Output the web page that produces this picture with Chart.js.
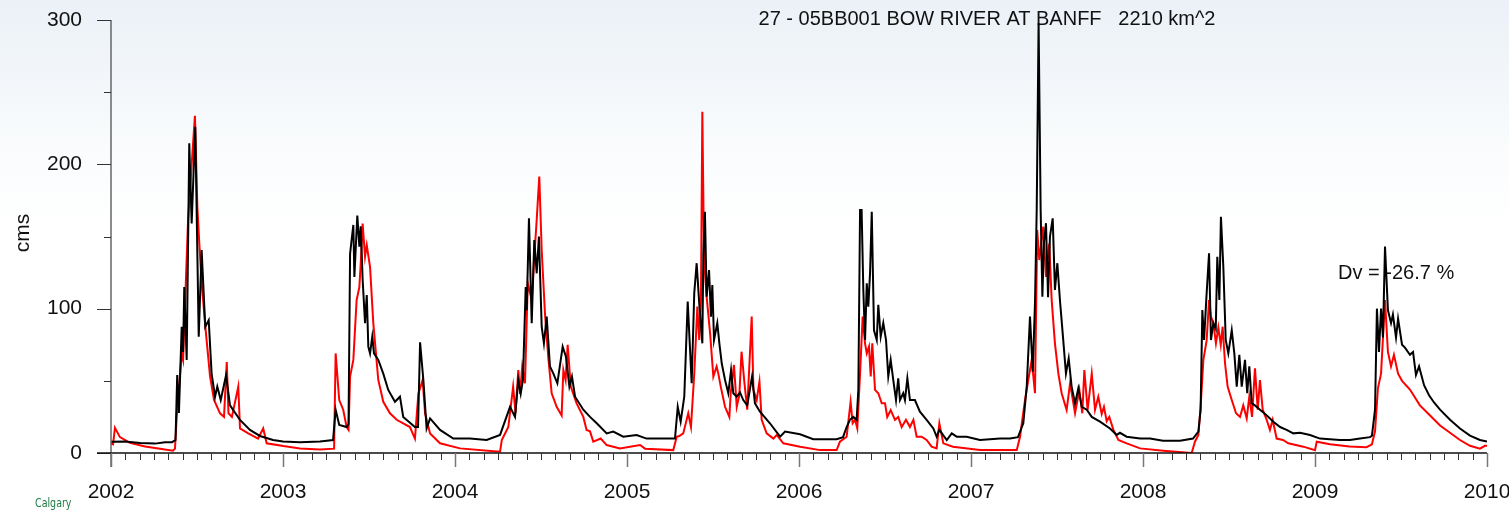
<!DOCTYPE html>
<html>
<head>
<meta charset="utf-8">
<script src="https://cdn.jsdelivr.net/npm/chart.js@4.4.1/dist/chart.umd.min.js"></script>
<style>
  html, body { margin: 0; padding: 0; background: #fff; }
  canvas { display: block; }
</style>
</head>
<body>
<canvas id="hydro" width="1509" height="512"></canvas>
<script>
// observed flow (black), decimal year / cms
const obsDate = [
  2002.000, 2002.081, 2002.169, 2002.256, 2002.314, 2002.355, 2002.375, 2002.385, 2002.395, 2002.411, 2002.419, 2002.426, 2002.440, 2002.455, 2002.469, 2002.490, 2002.510, 2002.527, 2002.548, 2002.568, 2002.585, 2002.605, 2002.618, 2002.638, 2002.669, 2002.692, 2002.750, 2002.808, 2002.866, 2002.942,
  2003.000, 2003.099, 2003.215, 2003.291, 2003.306, 2003.327, 2003.370, 2003.381, 2003.390, 2003.399, 2003.409, 2003.415, 2003.432, 2003.444, 2003.452, 2003.463, 2003.477, 2003.487, 2003.496, 2003.506, 2003.519, 2003.529, 2003.554, 2003.583, 2003.612, 2003.651, 2003.680, 2003.699, 2003.767, 2003.785, 2003.797, 2003.816, 2003.835, 2003.855, 2003.913, 2003.990,
  2004.087, 2004.184, 2004.262, 2004.320, 2004.349, 2004.368, 2004.382, 2004.395, 2004.411, 2004.417, 2004.430, 2004.446, 2004.461, 2004.475, 2004.488, 2004.504, 2004.517, 2004.533, 2004.552, 2004.572, 2004.595, 2004.626, 2004.645, 2004.665, 2004.680, 2004.698, 2004.746, 2004.785, 2004.824, 2004.882, 2004.920, 2004.978,
  2005.056, 2005.114, 2005.269, 2005.279, 2005.295, 2005.312, 2005.333, 2005.353, 2005.376, 2005.391, 2005.405, 2005.420, 2005.438, 2005.444, 2005.453, 2005.463, 2005.477, 2005.488, 2005.496, 2005.506, 2005.525, 2005.537, 2005.551, 2005.570, 2005.589, 2005.605, 2005.618, 2005.638, 2005.657, 2005.676, 2005.699, 2005.727, 2005.744, 2005.773, 2005.831, 2005.890, 2005.919,
  2006.006, 2006.083, 2006.219, 2006.256, 2006.277, 2006.296, 2006.316, 2006.335, 2006.345, 2006.355, 2006.364, 2006.374, 2006.384, 2006.394, 2006.403, 2006.413, 2006.423, 2006.436, 2006.452, 2006.461, 2006.475, 2006.490, 2006.506, 2006.519, 2006.533, 2006.548, 2006.564, 2006.577, 2006.587, 2006.606, 2006.616, 2006.630, 2006.645, 2006.674, 2006.703, 2006.742, 2006.781, 2006.800, 2006.816, 2006.859, 2006.888, 2006.917, 2006.975,
  2007.052, 2007.169, 2007.227, 2007.273, 2007.304, 2007.324, 2007.343, 2007.359, 2007.372, 2007.382, 2007.393, 2007.405, 2007.415, 2007.424, 2007.436, 2007.448, 2007.459, 2007.475, 2007.488, 2007.502, 2007.517, 2007.533, 2007.552, 2007.568, 2007.585, 2007.605, 2007.624, 2007.644, 2007.673, 2007.702, 2007.750, 2007.808, 2007.847, 2007.866, 2007.905, 2007.983,
  2008.041, 2008.116, 2008.215, 2008.291, 2008.322, 2008.335, 2008.345, 2008.355, 2008.370, 2008.384, 2008.395, 2008.409, 2008.423, 2008.432, 2008.444, 2008.453, 2008.467, 2008.481, 2008.496, 2008.516, 2008.531, 2008.545, 2008.560, 2008.574, 2008.593, 2008.606, 2008.618, 2008.632, 2008.651, 2008.680, 2008.700, 2008.729, 2008.758, 2008.797, 2008.835, 2008.874, 2008.913, 2008.971,
  2009.029, 2009.087, 2009.145, 2009.203, 2009.262, 2009.320, 2009.331, 2009.349, 2009.360, 2009.372, 2009.384, 2009.395, 2009.407, 2009.424, 2009.442, 2009.453, 2009.471, 2009.483, 2009.506, 2009.523, 2009.552, 2009.570, 2009.587, 2009.605, 2009.634, 2009.663, 2009.692, 2009.727, 2009.785, 2009.843, 2009.901, 2009.959, 2010.000
];
const obsFlow = [
  7.8, 8, 7, 6.5, 7.5, 7.5, 9, 54, 27.7, 87.5, 70, 115, 64.5, 214.6, 159, 226, 80.6, 140.7, 87.5, 92, 55, 39, 46, 36.7, 54, 33, 22.9, 16, 11.8, 9,
  8, 7.5, 8, 9, 30, 19.4, 18, 20, 138, 147.6, 158, 122, 164.5, 143, 157, 120, 90, 109.5, 73.7, 69, 80.6, 69, 64.5, 55, 43.7, 35.5, 39, 25, 18, 18, 76.7, 50.6, 17, 24, 16, 10,
  10, 9, 12.5, 32, 25, 50.6, 41, 50.6, 115, 99, 162.6, 90, 147.6, 124.5, 150, 87.5, 76, 94.5, 60, 55, 48.3, 73.7, 66.7, 46, 53, 39, 30, 25, 20.6, 13.6, 14.8, 11.3,
  12.5, 10, 10, 10, 32, 21.7, 39, 104.9, 48.3, 110.7, 131.5, 103.7, 76, 138.4, 167.2, 108.3, 126.8, 94.5, 116.4, 78.3, 90, 76, 62, 50.6, 41.4, 57.5, 41.4, 39, 42, 36.7, 33, 53, 34.4, 28.6, 20.6, 11.3, 14.8,
  13, 9.5, 9.5, 11, 18, 23, 25, 23, 43.7, 168.4, 168.4, 113, 78.3, 117.6, 101.4, 124.5, 167.2, 85, 78.3, 102.6, 80.6, 90, 78.3, 53, 64.5, 50.6, 36.7, 51.8, 36.7, 41.4, 36.7, 51.8, 36.7, 36.7, 28.6, 23, 17, 11.3, 16, 9, 13.6, 11.3, 11.3,
  9, 10, 10, 11, 20.6, 46, 94.5, 56.3, 103.7, 168.4, 297.8, 168, 108.3, 145.3, 159.2, 108, 150, 162.6, 113, 131.5, 106, 83, 55, 65.6, 46, 34.4, 44.8, 32, 30, 25, 21.7, 17, 12.5, 14, 11.3, 10,
  10, 8.5, 8.5, 10, 14.8, 30, 99, 78.3, 110.7, 138.4, 78.3, 90, 86, 136, 106, 163.7, 129, 78.3, 69, 85, 69, 46, 68, 46, 64.5, 41.4, 60, 34.4, 33, 30, 28, 25, 21.7, 18, 16, 13.6, 14, 12.5,
  10, 9.5, 9, 9, 10, 11, 12, 30, 100, 70, 100, 80, 143, 99, 90, 96, 80, 93, 75, 73, 68, 70, 54, 60, 47, 40, 35, 30, 23, 17, 12, 9, 8
];

// simulated flow (red)
const simDate = [
  2002.000, 2002.012, 2002.023, 2002.052, 2002.110, 2002.198, 2002.285, 2002.360, 2002.372, 2002.382, 2002.392, 2002.411, 2002.419, 2002.448, 2002.469, 2002.488, 2002.502, 2002.513, 2002.527, 2002.552, 2002.576, 2002.599, 2002.634, 2002.657, 2002.673, 2002.683, 2002.703, 2002.740, 2002.750, 2002.798, 2002.855, 2002.885, 2002.905,
  2003.002, 2003.099, 2003.215, 2003.297, 2003.306, 2003.327, 2003.350, 2003.370, 2003.381, 2003.390, 2003.409, 2003.428, 2003.444, 2003.453, 2003.463, 2003.477, 2003.487, 2003.506, 2003.525, 2003.554, 2003.583, 2003.622, 2003.661, 2003.699, 2003.738, 2003.767, 2003.787, 2003.812, 2003.826, 2003.855, 2003.913,
  2004.029, 2004.242, 2004.262, 2004.272, 2004.310, 2004.338, 2004.352, 2004.368, 2004.378, 2004.391, 2004.407, 2004.423, 2004.446, 2004.461, 2004.475, 2004.490, 2004.504, 2004.523, 2004.542, 2004.562, 2004.591, 2004.620, 2004.630, 2004.643, 2004.655, 2004.673, 2004.707, 2004.746, 2004.765, 2004.785, 2004.804, 2004.847, 2004.882, 2004.959,
  2005.076, 2005.105, 2005.269, 2005.289, 2005.304, 2005.327, 2005.356, 2005.372, 2005.391, 2005.409, 2005.420, 2005.430, 2005.438, 2005.448, 2005.463, 2005.483, 2005.502, 2005.521, 2005.531, 2005.545, 2005.570, 2005.595, 2005.603, 2005.622, 2005.638, 2005.653, 2005.666, 2005.682, 2005.699, 2005.725, 2005.735, 2005.754, 2005.770, 2005.783, 2005.812, 2005.851, 2005.870, 2005.909,
  2006.006, 2006.122, 2006.219, 2006.238, 2006.277, 2006.300, 2006.312, 2006.326, 2006.339, 2006.355, 2006.370, 2006.384, 2006.394, 2006.407, 2006.417, 2006.426, 2006.442, 2006.461, 2006.481, 2006.500, 2006.513, 2006.533, 2006.558, 2006.577, 2006.597, 2006.622, 2006.645, 2006.665, 2006.684, 2006.713, 2006.742, 2006.771, 2006.800, 2006.816, 2006.839, 2006.895,
  2007.052, 2007.149, 2007.266, 2007.285, 2007.314, 2007.333, 2007.353, 2007.372, 2007.385, 2007.397, 2007.420, 2007.436, 2007.455, 2007.469, 2007.488, 2007.508, 2007.527, 2007.556, 2007.576, 2007.605, 2007.630, 2007.647, 2007.659, 2007.678, 2007.702, 2007.721, 2007.740, 2007.760, 2007.773, 2007.789, 2007.804, 2007.828, 2007.857, 2007.905, 2007.983,
  2008.118, 2008.283, 2008.302, 2008.322, 2008.335, 2008.351, 2008.370, 2008.384, 2008.395, 2008.409, 2008.424, 2008.438, 2008.452, 2008.463, 2008.477, 2008.492, 2008.516, 2008.541, 2008.564, 2008.583, 2008.603, 2008.618, 2008.634, 2008.651, 2008.667, 2008.680, 2008.696, 2008.719, 2008.738, 2008.754, 2008.777, 2008.814, 2008.845, 2008.932, 2009.000,
  2009.010, 2009.087, 2009.200, 2009.300, 2009.331, 2009.349, 2009.366, 2009.384, 2009.407, 2009.424, 2009.442, 2009.459, 2009.483, 2009.506, 2009.552, 2009.610, 2009.669, 2009.727, 2009.785, 2009.843, 2009.901, 2009.959, 2009.988, 2010.000
];
const simFlow = [
  6.7, 6, 17.5, 11, 7, 4.5, 3, 1.6, 3, 25, 40, 69, 64.5, 161, 200, 233.7, 170.7, 146, 117.6, 83, 53, 36.7, 27.5, 25, 63, 27.5, 25, 46, 17, 13.6, 10, 17, 6.7,
  4.8, 3.2, 2.5, 3, 69, 36.7, 30, 18, 16, 53, 64.5, 106, 115, 133.7, 159, 136, 144, 129, 90, 50.6, 35.5, 27.5, 23, 20.6, 18, 10, 41, 50.6, 27.5, 13.6, 6.7,
  3.2, 1, 1, 9, 18, 46, 27.5, 57.5, 41, 60, 48.3, 117.6, 106, 136, 161.5, 191.5, 140.7, 96.8, 66.7, 41.4, 32, 26, 57.5, 50.6, 75, 46, 34.4, 25, 16, 15, 7.8, 10, 5.5, 3.2,
  5.5, 3, 2, 11.3, 11.8, 13.6, 27.5, 18, 55, 101.4, 78.3, 106, 236.5, 133.7, 108.3, 83, 53, 60, 55, 46, 32, 25, 41.4, 61, 32, 40, 70.2, 49.4, 30, 94.5, 43.7, 36.7, 49.4, 23, 13.6, 10, 12.5, 6.7,
  4.4, 2, 2, 7.8, 11.3, 35.5, 20.6, 23, 17, 55, 94.5, 76, 69, 73.7, 53, 76, 43.7, 41.4, 34.4, 34.4, 25, 29.8, 23, 25, 18, 23, 18, 23, 11.3, 11.3, 9, 4.4, 3.2, 20.6, 6.7, 4.4,
  2, 2, 2, 11.3, 36.7, 50.6, 64.5, 41.4, 154.5, 133.7, 156.8, 122, 145, 106, 76, 55, 41.4, 29.8, 48.3, 27.5, 43.7, 27.5, 57.5, 29.8, 55, 30, 39, 27, 32, 22, 25, 16, 9, 6.7, 3.2,
  1.6, 0, 7.8, 12.5, 32, 64.5, 78, 106, 94.5, 90, 76, 87, 75, 87.5, 62, 46, 36.7, 27.5, 25, 33, 24, 39, 25, 58.7, 30, 50.6, 30, 23, 16, 23, 10, 9, 6.7, 4.4, 2,
  7.8, 6, 4.5, 4, 6, 15, 45, 55, 106, 70, 60, 68, 55, 50, 44, 33, 26, 19, 14, 9, 5, 3, 5, 5
];

const yTicks = [0, 100, 200, 300];
const yearLabels = ['2002', '2003', '2004', '2005', '2006', '2007', '2008', '2009', '2010'];
const titleText = '27 - 05BB001 BOW RIVER AT BANFF   2210 km^2';
const dvText = 'Dv = -26.7 %';

const toPoints = (xs, ys) => xs.map((x, i) => ({ x: x, y: ys[i] }));

const FONT = '"Liberation Sans", Arial, sans-serif';

const hydroDecor = {
  id: 'hydroDecor',
  beforeDraw(chart) {
    const c = chart.ctx;
    const g = c.createLinearGradient(0, 0, 0, chart.height);
    g.addColorStop(0, '#ebf1f7');
    g.addColorStop(0.12, '#f1f5f9');
    g.addColorStop(0.3, '#fafcfd');
    g.addColorStop(0.45, '#ffffff');
    g.addColorStop(1, '#ffffff');
    c.save();
    c.fillStyle = g;
    c.fillRect(0, 0, chart.width, chart.height);
    c.restore();
  },
  beforeDatasetsDraw(chart) {
    const c = chart.ctx;
    c.save();
    c.fillStyle = '#111';
    c.font = '20px ' + FONT;
    c.textBaseline = 'middle';
    c.textAlign = 'center';
    c.fillText(titleText, 987, 19);
    c.textAlign = 'left';
    c.fillText(dvText, 1338, 273);
    c.restore();
  },
  afterDraw(chart) {
    const c = chart.ctx;
    const xs = chart.scales.x;
    const ys = chart.scales.y;
    const y0 = ys.getPixelForValue(0);
    const x0 = xs.getPixelForValue(2002);
    c.save();
    // y axis
    c.strokeStyle = '#666';
    c.lineWidth = 1.5;
    c.beginPath();
    c.moveTo(x0, ys.getPixelForValue(300));
    c.lineTo(x0, y0 + 14);
    c.stroke();
    for (let v = 0; v <= 300; v += 50) {
      const py = Math.round(ys.getPixelForValue(v)) + 0.5;
      const len = v % 100 === 0 ? 14 : 7;
      c.strokeStyle = '#333';
      c.lineWidth = 1;
      c.beginPath();
      c.moveTo(x0 - len, py);
      c.lineTo(x0, py);
      c.stroke();
    }
    // x axis
    c.strokeStyle = '#111';
    c.lineWidth = 1.5;
    c.beginPath();
    c.moveTo(x0 - 14, y0);
    c.lineTo(xs.getPixelForValue(2010), y0);
    c.stroke();
    for (let yr = 2002; yr <= 2010; yr++) {
      for (let m = 0; m < 12; m++) {
        if (yr === 2010 && m > 0) break;
        const px = Math.round(xs.getPixelForValue(yr + m / 12)) + 0.5;
        const major = m === 0;
        c.strokeStyle = major ? '#777' : '#333';
        c.lineWidth = major ? 1.5 : 1;
        c.beginPath();
        c.moveTo(px, y0);
        c.lineTo(px, y0 + (major ? 14 : 7));
        c.stroke();
      }
    }
    // tick labels
    c.fillStyle = '#111';
    c.font = '21px ' + FONT;
    c.textBaseline = 'middle';
    c.textAlign = 'right';
    yTicks.forEach(v => c.fillText(String(v), 82, ys.getPixelForValue(v)));
    c.textAlign = 'center';
    yearLabels.forEach(l => c.fillText(l, xs.getPixelForValue(Number(l)), 492));
    // axis title
    c.save();
    c.translate(23, 233);
    c.rotate(-Math.PI / 2);
    c.fillText('cms', 0, 0);
    c.restore();
    // corner note
    c.fillStyle = '#1c7a43';
    c.font = '12px "Liberation Sans Narrow", "DejaVu Sans Condensed", sans-serif';
    c.textAlign = 'left';
    c.save();
    c.translate(35, 504);
    c.scale(0.88, 1);
    c.fillText('Calgary', 0, 0);
    c.restore();
    c.restore();
  }
};

new Chart(document.getElementById('hydro').getContext('2d'), {
  type: 'line',
  data: {
    datasets: [
      {
        label: 'simulated',
        data: toPoints(simDate, simFlow),
        borderColor: '#ff0000',
        borderWidth: 2,
        pointRadius: 0,
        tension: 0,
        order: 2
      },
      {
        label: 'observed',
        data: toPoints(obsDate, obsFlow),
        borderColor: '#000000',
        borderWidth: 2,
        pointRadius: 0,
        tension: 0,
        order: 1
      }
    ]
  },
  options: {
    responsive: false,
    animation: false,
    layout: { padding: { left: 111, right: 22, top: 20, bottom: 59 } },
    plugins: {
      legend: { display: false },
      tooltip: { enabled: false }
    },
    scales: {
      x: { type: 'linear', min: 2002, max: 2010, display: false },
      y: { type: 'linear', min: 0, max: 300, display: false }
    }
  },
  plugins: [hydroDecor]
});
</script>
</body>
</html>
